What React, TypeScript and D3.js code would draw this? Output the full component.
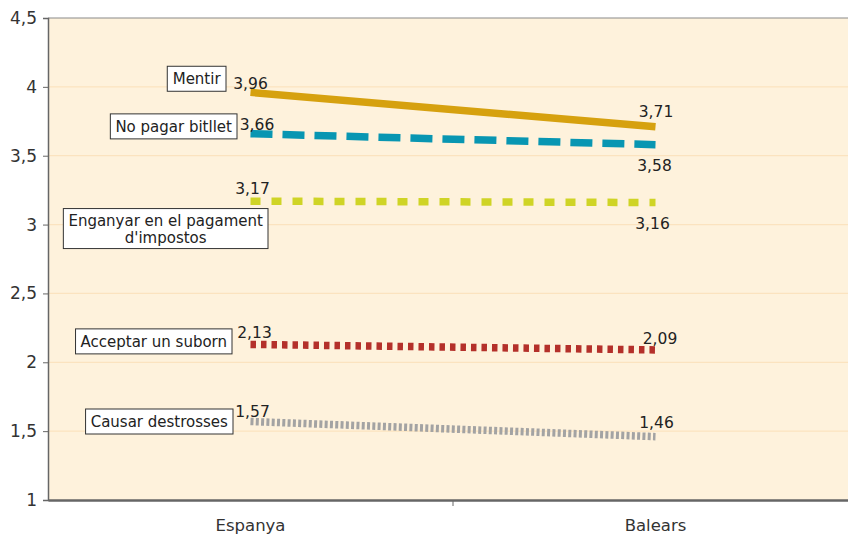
import React, { useEffect, useRef } from "react";
import * as d3 from "d3";

const categories = ["Espanya", "Balears"];
const seriesNames = ["Mentir", "No pagar bitllet", "Enganyar en el pagament|d'impostos", "Acceptar un suborn", "Causar destrosses"];
const espanyaValues = [3.96, 3.66, 3.17, 2.13, 1.57];
const balearsValues = [3.71, 3.58, 3.16, 2.09, 1.46];
const yTicks = [1, 1.5, 2, 2.5, 3, 3.5, 4, 4.5];

const colors = ["#D6A10F", "#0896B2", "#CFD426", "#B4302A", "#A3A3A3"];
const dashes = ["none", "22 10", "10 11", "5.5 5", "3 2.3"];
// annotation placement relative to the data points
const labelLayout = [
  { bx: -24.5, by: -13.6, d1x: 0, d1y: -3, d2x: 0.5, d2y: -9.5 },
  { bx: -13.5, by: -7.3, d1x: 6.5, d1y: -4, d2x: -1, d2y: 26 },
  { bx: 17.5, by: 27.4, d1x: 2, d1y: -7.5, d2x: -3, d2y: 26 },
  { bx: -18.5, by: -3, d1x: 4, d1y: -6.5, d2x: 4.5, d2y: -6 },
  { bx: -17.5, by: 0, d1x: 2, d1y: -5, d2x: 1, d2y: -8.5 },
];

const W = 848, H = 536;
const m = { left: 48, top: 18, bottom: 500 };
const FONT = "'DejaVu Sans', sans-serif";

export default function App() {
  const ref = useRef<SVGSVGElement>(null);
  useEffect(() => {
    const svg = d3.select(ref.current);
    svg.selectAll("*").remove();
    const x = d3.scaleBand().domain(categories).range([m.left, 858]);
    const y = d3.scaleLinear().domain([1, 4.5]).range([m.bottom, m.top]);
    const cx = (c: string) => (x(c) as number) + x.bandwidth() / 2;

    svg.append("rect").attr("x", m.left).attr("y", m.top).attr("width", W - m.left).attr("height", m.bottom - m.top).attr("fill", "#FEF2DC");
    svg.append("g").selectAll("line").data(yTicks.slice(1, -1)).join("line")
      .attr("x1", m.left).attr("x2", W).attr("y1", d => y(d)).attr("y2", d => y(d))
      .attr("stroke", "#FBE3BF").attr("stroke-width", 1.2);
    svg.append("line").attr("x1", m.left).attr("x2", W).attr("y1", m.top).attr("y2", m.top).attr("stroke", "#8a8a8a").attr("stroke-width", 1.2);

    const yAxis = svg.append("g").attr("transform", `translate(${m.left},0)`)
      .call(d3.axisLeft(y).tickValues(yTicks).tickSize(5).tickFormat(d => d3.format(".1~f")(d as number).replace(".", ",")));
    yAxis.select(".domain").attr("stroke", "#666").attr("stroke-width", 1.5);
    yAxis.selectAll(".tick line").attr("stroke", "#666");
    yAxis.selectAll("text").attr("font-family", FONT).attr("font-size", 17).attr("fill", "#333").attr("dx", -3);

    const xAxis = svg.append("g").attr("transform", `translate(0,${m.bottom})`)
      .call(d3.axisBottom(x).tickSize(0));
    xAxis.select(".domain").attr("stroke", "#666").attr("stroke-width", 2.5);
    xAxis.selectAll("text").attr("font-family", FONT).attr("font-size", 16.5).attr("fill", "#333").attr("dy", 28);
    svg.append("line").attr("x1", x("Balears") as number).attr("x2", x("Balears") as number).attr("y1", m.bottom).attr("y2", m.bottom + 6).attr("stroke", "#666");

    const line = d3.line<number[]>().x(d => d[0]).y(d => d[1]);
    const fmt = (v: number) => d3.format(".2f")(v).replace(".", ",");
    seriesNames.forEach((name, i) => {
      const pts = [[cx("Espanya"), y(espanyaValues[i])], [cx("Balears"), y(balearsValues[i])]];
      svg.append("path").attr("d", line(pts)).attr("fill", "none").attr("stroke", colors[i]).attr("stroke-width", 7.5)
        .attr("stroke-dasharray", dashes[i]);
      const L = labelLayout[i];
      svg.append("text").attr("x", pts[0][0] + L.d1x).attr("y", pts[0][1] + L.d1y).attr("text-anchor", "middle")
        .attr("font-family", FONT).attr("font-size", 15.5).attr("fill", "#222").text(fmt(espanyaValues[i]));
      svg.append("text").attr("x", pts[1][0] + L.d2x).attr("y", pts[1][1] + L.d2y).attr("text-anchor", "middle")
        .attr("font-family", FONT).attr("font-size", 15.5).attr("fill", "#222").text(fmt(balearsValues[i]));

      const lines = name.split("|");
      const g = svg.append("g");
      const lh = 17;
      const right = pts[0][0] + L.bx;
      const cy = pts[0][1] + L.by;
      const t = g.append("text").attr("font-family", FONT).attr("font-size", 15).attr("fill", "#222").attr("text-anchor", "middle");
      lines.forEach((ln, k) => t.append("tspan").attr("x", 0).attr("y", (k - (lines.length - 1) / 2) * lh + 5.5).text(ln));
      const bb = (t.node() as SVGTextElement).getBBox();
      const bw = bb.width + 10, bh = lines.length === 1 ? 25 : 40;
      t.attr("transform", `translate(${right - bw / 2},${cy})`);
      g.insert("rect", "text").attr("x", right - bw).attr("y", cy - bh / 2).attr("width", bw).attr("height", bh)
        .attr("fill", "#fff").attr("stroke", "#333").attr("stroke-width", 1);
    });
  }, []);
  return <svg ref={ref} width={W} height={H} style={{ position: "absolute", left: 0, top: 0, background: "#fff" }} />;
}
